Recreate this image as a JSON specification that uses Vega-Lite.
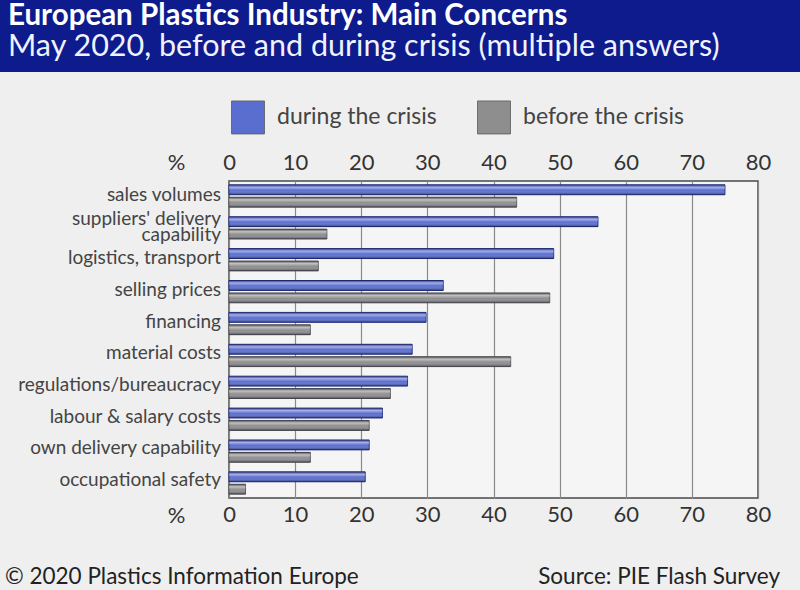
{
  "$schema": "https://vega.github.io/schema/vega-lite/v6.json",
  "background": "#efefef",
  "padding": 0,
  "spacing": 27,
  "resolve": {"legend": {"fill": "independent"}},
  "config": {"font": "Lato", "view": {"stroke": null}},
  "datasets": {
    "concerns": [
      {"concern": "sales volumes", "period": "during the crisis", "value": 75},
      {"concern": "sales volumes", "period": "before the crisis", "value": 43.5},
      {"concern": "suppliers' delivery capability", "period": "during the crisis", "value": 55.8},
      {"concern": "suppliers' delivery capability", "period": "before the crisis", "value": 14.8},
      {"concern": "logistics, transport", "period": "during the crisis", "value": 49.1},
      {"concern": "logistics, transport", "period": "before the crisis", "value": 13.5},
      {"concern": "selling prices", "period": "during the crisis", "value": 32.4},
      {"concern": "selling prices", "period": "before the crisis", "value": 48.5},
      {"concern": "financing", "period": "during the crisis", "value": 29.8},
      {"concern": "financing", "period": "before the crisis", "value": 12.3},
      {"concern": "material costs", "period": "during the crisis", "value": 27.7},
      {"concern": "material costs", "period": "before the crisis", "value": 42.6},
      {"concern": "regulations/bureaucracy", "period": "during the crisis", "value": 27},
      {"concern": "regulations/bureaucracy", "period": "before the crisis", "value": 24.4},
      {"concern": "labour & salary costs", "period": "during the crisis", "value": 23.2},
      {"concern": "labour & salary costs", "period": "before the crisis", "value": 21.2},
      {"concern": "own delivery capability", "period": "during the crisis", "value": 21.2},
      {"concern": "own delivery capability", "period": "before the crisis", "value": 12.3},
      {"concern": "occupational safety", "period": "during the crisis", "value": 20.6},
      {"concern": "occupational safety", "period": "before the crisis", "value": 2.5}
    ]
  },
  "vconcat": [
    {
      "width": 800,
      "height": 72,
      "view": {"fill": "#0d1b8c", "stroke": null},
      "data": {"values": [{"t": ""}]},
      "mark": {"type": "text", "text": ""},
      "title": {
        "text": "European Plastics Industry: Main Concerns",
        "subtitle": "May 2020, before and during crisis (multiple answers)",
        "anchor": "start",
        "frame": "group",
        "orient": "top",
        "offset": -63,
        "dx": 8,
        "color": "#ffffff",
        "subtitleColor": "#f0f2ff",
        "fontSize": 29.5,
        "subtitleFontSize": 30.5,
        "fontWeight": "bold",
        "subtitleFontWeight": "normal",
        "subtitlePadding": 0,
        "font": "Lato",
        "subtitleFont": "Lato"
      }
    },
    {
      "hconcat": [
        {
          "width": 229,
          "height": 317,
          "data": {"name": "concerns"},
          "transform": [{"filter": "datum.period === 'during the crisis'"}],
          "encoding": {
            "y": {
              "field": "concern",
              "type": "nominal",
              "scale": {
                "domain": ["sales volumes", "suppliers' delivery capability", "logistics, transport", "selling prices", "financing", "material costs", "regulations/bureaucracy", "labour & salary costs", "own delivery capability", "occupational safety"],
                "paddingInner": 0.3,
                "paddingOuter": 0.12
              },
              "axis": null
            },
            "x": {"datum": 1, "type": "quantitative", "scale": {"domain": [0, 1]}, "axis": null}
          },
          "layer": [
            {
              "transform": [{"filter": "datum.concern !== \"suppliers' delivery capability\""}],
              "mark": {"type": "text", "align": "right", "baseline": "middle", "dx": -8, "dy": -2, "fontSize": 19, "color": "#444444"},
              "encoding": {"text": {"field": "concern"}}
            },
            {
              "transform": [{"filter": "datum.concern === \"suppliers' delivery capability\""}],
              "mark": {"type": "text", "align": "right", "baseline": "middle", "dx": -8, "dy": -10, "fontSize": 19, "lineHeight": 16, "color": "#444444", "text": ["suppliers' delivery", "capability"]}
            }
          ]
        },
        {
          "width": 529,
          "height": 317,
          "view": {"fill": "#f5f5f5", "stroke": "#4a4a4a", "strokeWidth": 1.5},
          "data": {"name": "concerns"},
          "encoding": {
            "y": {
              "field": "concern",
              "type": "nominal",
              "scale": {
                "domain": ["sales volumes", "suppliers' delivery capability", "logistics, transport", "selling prices", "financing", "material costs", "regulations/bureaucracy", "labour & salary costs", "own delivery capability", "occupational safety"],
                "paddingInner": 0.3,
                "paddingOuter": 0.12
              },
              "axis": null
            },
            "yOffset": {
              "field": "period",
              "type": "nominal",
              "sort": ["during the crisis", "before the crisis"],
              "scale": {"paddingInner": 0.2}
            },
            "x": {
              "field": "value",
              "type": "quantitative",
              "scale": {"domain": [0, 80], "nice": false}
            }
          },
          "layer": [
            {
              "transform": [{"filter": "datum.period === 'during the crisis'"}],
              "mark": {"type": "bar", "stroke": "#22338f", "strokeWidth": 1},
              "encoding": {
                "fill": {
                  "field": "period",
                  "type": "nominal",
                  "scale": {"domain": ["during the crisis", "before the crisis"], "range": ["#5a6ed0", "#8e8e8e"]},
                  "legend": {
                    "title": null,
                    "orient": "none",
                    "legendX": 2,
                    "legendY": -81,
                    "direction": "horizontal",
                    "symbolType": "square",
                    "symbolSize": 1089,
                    "symbolStrokeWidth": 0.8,
                    "symbolStrokeColor": "#555555",
                    "symbolOpacity": 1,
                    "labelFontSize": 23,
                    "labelColor": "#444444",
                    "labelOffset": 12,
                    "labelLimit": 300,
                    "columnPadding": 38
                  }
                },
                "x": {
                  "field": "value",
                  "type": "quantitative",
                  "scale": {"domain": [0, 80], "nice": false},
                  "axis": {
                    "orient": "top",
                    "values": [0, 10, 20, 30, 40, 50, 60, 70, 80],
                    "grid": false,
                    "ticks": false,
                    "tickSize": 0,
                    "domain": false,
                    "labelFontSize": 22,
                    "labelColor": "#333333",
                    "labelPadding": 7,
                    "labelFlush": false,
                    "title": "%",
                    "titleX": -53,
                    "titleY": -19,
                    "titleAlign": "center",
                    "titleBaseline": "middle",
                    "titleFontSize": 22,
                    "titleFontWeight": "normal",
                    "titleColor": "#333333"
                  }
                }
              }
            },
            {
              "transform": [{"filter": "datum.period === 'before the crisis'"}],
              "mark": {"type": "bar", "stroke": "#5a5a5a", "strokeWidth": 1},
              "encoding": {
                "fill": {
                  "field": "period",
                  "type": "nominal",
                  "scale": {"domain": ["during the crisis", "before the crisis"], "range": ["#5a6ed0", "#8e8e8e"]}
                },
                "x": {
                  "field": "value",
                  "type": "quantitative",
                  "scale": {"domain": [0, 80], "nice": false},
                  "axis": {
                    "orient": "bottom",
                    "values": [0, 10, 20, 30, 40, 50, 60, 70, 80],
                    "grid": true,
                    "gridColor": "#8a8a8a",
                    "gridWidth": 1.2,
                    "ticks": false,
                    "tickSize": 0,
                    "domain": false,
                    "labelFontSize": 22,
                    "labelColor": "#333333",
                    "labelPadding": 6,
                    "labelFlush": false,
                    "title": "%",
                    "titleX": -53,
                    "titleY": 17,
                    "titleAlign": "center",
                    "titleBaseline": "middle",
                    "titleFontSize": 22,
                    "titleFontWeight": "normal",
                    "titleColor": "#333333"
                  }
                }
              }
            },
            {
              "mark": {
                "type": "bar",
                "strokeWidth": 0,
                "fill": {"gradient": "linear", "x1": 0, "y1": 0, "x2": 0, "y2": 1, "stops": [
                  {"offset": 0, "color": "rgba(0,0,30,0.45)"},
                  {"offset": 0.25, "color": "rgba(255,255,255,0.45)"},
                  {"offset": 0.55, "color": "rgba(255,255,255,0.0)"},
                  {"offset": 1, "color": "rgba(0,0,30,0.5)"}
                ]}
              },
              "encoding": {
                "x": {
                  "field": "value",
                  "type": "quantitative",
                  "scale": {"domain": [0, 80], "nice": false},
                  "axis": null
                }
              }
            }
          ],
          "resolve": {"axis": {"x": "independent"}}
        }
      ],
      "spacing": 0,
      "bounds": "flush",
      "resolve": {"legend": {"fill": "independent"}}
    },
    {
      "width": 800,
      "height": 46,
      "data": {
        "values": [
          {"text": "© 2020 Plastics Information Europe", "side": "left"},
          {"text": "Source: PIE Flash Survey", "side": "right"}
        ]
      },
      "encoding": {
        "x": {"field": "side", "type": "nominal", "scale": {"type": "point", "padding": 0, "domain": ["left", "right"]}, "axis": null},
        "text": {"field": "text"}
      },
      "layer": [
        {
          "transform": [{"filter": "datum.side === 'left'"}],
          "mark": {"type": "text", "align": "left", "baseline": "middle", "dx": 5, "fontSize": 22.5, "color": "#222222"}
        },
        {
          "transform": [{"filter": "datum.side === 'right'"}],
          "mark": {"type": "text", "align": "right", "baseline": "middle", "dx": -20, "fontSize": 22.5, "color": "#222222"}
        }
      ]
    }
  ]
}
